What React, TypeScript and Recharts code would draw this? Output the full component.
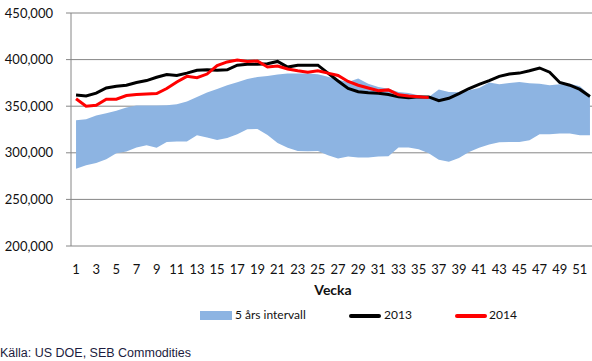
import React from "react";
import { ComposedChart, Area, Line, XAxis, YAxis, CartesianGrid } from "recharts";

// Veckor 1-52
const weeks = Array.from({ length: 52 }, (_, i) => i + 1);

// 5 års intervall, lägsta och högsta nivå (fat)
const bandLow = [
  283000, 286600, 289000, 293000, 299500, 301500, 305800, 308000, 305300, 311500,
  312000, 312000, 318800, 316300, 313800, 316000, 319800, 325300, 325500, 319000,
  310500, 305500, 302000, 301600, 302000, 297500, 294000, 296000, 295000, 295000,
  296000, 296200, 305600, 305600, 303800, 299500, 292500, 290500, 294500, 300900,
  305500, 309000, 311300, 311600, 311600, 313400, 319800, 319800, 320600, 320600,
  318800, 318800,
];
const bandHigh = [
  335000, 336000, 340000, 342500, 345000, 348500, 350800, 350800, 350800, 351000,
  352000, 355000, 360000, 364800, 368500, 372500, 375800, 379300, 381300, 382400,
  384000, 385000, 385000, 385000, 384200, 381500, 378500, 376000, 379600, 374200,
  370600, 368800, 365200, 364200, 361700, 359900, 367800, 365200, 365000, 367000,
  369500, 375300, 373500, 374900, 376000, 374600, 374200, 372400, 373500, 374200,
  371300, 362000,
];

const y2013 = [
  362000, 361000, 364000, 369500, 371500, 372500, 375500, 377500, 381000, 384000,
  383000, 385500, 388500, 389000, 388500, 389000, 394000, 395000, 395000, 395500,
  398000, 392000, 394000, 394000, 394000, 385500, 377000, 369000, 365500, 364500,
  364000, 362500, 360000, 359000, 360000, 360000, 356000, 358500, 363500, 369000,
  373500, 377500, 382000, 384500, 385500, 388000, 391000, 386500, 375500, 372500,
  368000, 360500,
];

// 2014 t.o.m. vecka 36
const y2014 = [
  358000, 350000, 351000, 357500, 357500, 361500, 362500, 363000, 363500, 369000,
  376000, 382000, 380500, 384500, 393500, 397500, 399500, 398000, 398500, 392000,
  393000, 390000, 388000, 386500, 388000, 385500, 383000, 376500, 372500, 369500,
  366700, 367500, 362300, 361000, 360200, 359200,
];

const yTicks = [200000, 250000, 300000, 350000, 400000, 450000];
const xLabelTicks = weeks.filter((w) => w % 2 === 1);
const xMarkTicks = [0.5, ...weeks.map((w) => w + 0.5)];

const data = weeks.map((w, i) => ({
  week: w,
  band: [bandLow[i], bandHigh[i]],
  y2013: y2013[i],
  y2014: i < y2014.length ? y2014[i] : null,
}));

const axisColor = "#868686";
const tickFont = { fontFamily: "Lato", fontSize: 13, fill: "#111" };

export default function App() {
  return (
    <div
      style={{
        position: "absolute",
        left: 0,
        top: 0,
        width: 592,
        height: 361,
        overflow: "hidden",
        background: "#fff",
      }}
    >
      <ComposedChart
        width={600}
        height={361}
        data={data}
        margin={{ top: 13, right: 5, bottom: 85, left: 0 }}
      >
        <CartesianGrid vertical={false} stroke={axisColor} strokeWidth={1} />
        <XAxis
          xAxisId="marks"
          dataKey="week"
          type="number"
          domain={[0.5, 52.5]}
          ticks={xMarkTicks}
          interval={0}
          height={0}
          tickSize={5}
          tickFormatter={() => ""}
          stroke={axisColor}
          tickLine={{ stroke: axisColor }}
        />
        <XAxis
          xAxisId="w"
          dataKey="week"
          type="number"
          domain={[0.5, 52.5]}
          ticks={xLabelTicks}
          interval={0}
          height={30}
          axisLine={false}
          tickLine={false}
          tickMargin={13}
          tick={tickFont}
        />
        <YAxis
          domain={[200000, 450000]}
          ticks={yTicks}
          interval={0}
          width={71}
          tickSize={5}
          tickMargin={13}
          stroke={axisColor}
          tick={tickFont}
          tickFormatter={(v: number) => v.toLocaleString("en-US")}
        />
        <Area
          xAxisId="w"
          dataKey="band"
          type="linear"
          stroke="none"
          fill="#8db4e2"
          fillOpacity={1}
          isAnimationActive={false}
        />
        <Line
          xAxisId="w"
          dataKey="y2013"
          type="linear"
          stroke="#000"
          strokeWidth={3}
          dot={false}
          isAnimationActive={false}
        />
        <Line
          xAxisId="w"
          dataKey="y2014"
          type="linear"
          stroke="#ff0000"
          strokeWidth={3}
          dot={false}
          isAnimationActive={false}
        />
      </ComposedChart>

      <div
        style={{
          position: "absolute",
          left: 0,
          width: 666,
          top: 281,
          textAlign: "center",
          fontFamily: "Lato",
          fontWeight: 700,
          fontSize: 14,
          color: "#111",
        }}
      >
        Vecka
      </div>

      <div style={{ position: "absolute", top: 307, left: 0, fontFamily: "Lato", fontSize: 12, color: "#111" }}>
        <div style={{ position: "absolute", left: 200, top: 4, width: 32, height: 9, background: "#8db4e2" }} />
        <div style={{ position: "absolute", left: 235, top: 0, whiteSpace: "nowrap" }}>5 års intervall</div>
        <div style={{ position: "absolute", left: 349, top: 7, width: 32, height: 4, background: "#000", borderRadius: 2 }} />
        <div style={{ position: "absolute", left: 384, top: 0 }}>2013</div>
        <div style={{ position: "absolute", left: 455, top: 7, width: 32, height: 4, background: "#ff0000", borderRadius: 2 }} />
        <div style={{ position: "absolute", left: 489, top: 0 }}>2014</div>
      </div>

      <div
        style={{
          position: "absolute",
          left: 0,
          top: 346,
          fontFamily: "Liberation Sans",
          fontSize: 12.5,
          color: "#1c1c40",
          whiteSpace: "nowrap",
        }}
      >
        Källa: US DOE, SEB Commodities
      </div>
    </div>
  );
}
